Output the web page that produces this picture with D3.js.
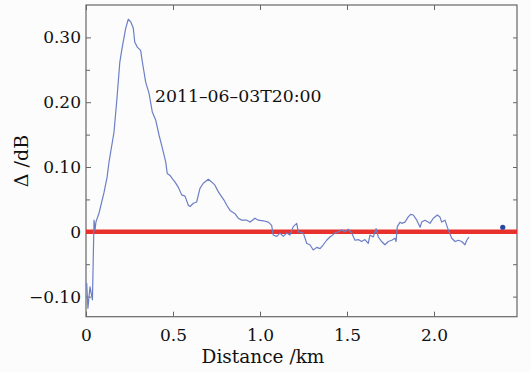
<!DOCTYPE html>
<html>
<head>
<meta charset="utf-8">
<script src="https://cdn.jsdelivr.net/npm/d3@7"></script>
<style>
  html, body { margin: 0; padding: 0; background: #fcfcfc; }
  svg { display: block; }
</style>
</head>
<body>
<svg id="chart" width="531" height="372"></svg>
<script>
// Differential loss along the fibre (km, dB)
const distance = [
  0.004, 0.011, 0.023, 0.037, 0.046, 0.052, 0.057, 0.075, 0.103, 0.121,
  0.132, 0.161, 0.178, 0.194, 0.207, 0.228, 0.243, 0.257, 0.272, 0.280,
  0.295, 0.314, 0.324, 0.343, 0.362, 0.381, 0.401, 0.420, 0.439, 0.458,
  0.467, 0.483, 0.496, 0.511, 0.530, 0.550, 0.569, 0.588, 0.598, 0.617,
  0.636, 0.655, 0.674, 0.703, 0.722, 0.741, 0.760, 0.780, 0.793, 0.809,
  0.828, 0.856, 0.875, 0.895, 0.924, 0.943, 0.971, 0.990, 1.019, 1.048,
  1.067, 1.076, 1.096, 1.115, 1.134, 1.153, 1.172, 1.191, 1.211, 1.220,
  1.249, 1.269, 1.287, 1.306, 1.326, 1.345, 1.364, 1.383, 1.402, 1.431,
  1.450, 1.470, 1.489, 1.507, 1.527, 1.546, 1.565, 1.584, 1.603, 1.622,
  1.632, 1.651, 1.667, 1.680, 1.699, 1.718, 1.737, 1.757, 1.776, 1.782,
  1.789, 1.805, 1.814, 1.833, 1.852, 1.866, 1.881, 1.901, 1.920, 1.929,
  1.948, 1.967, 1.977, 1.996, 2.019, 2.034, 2.044, 2.063, 2.082, 2.102,
  2.121, 2.140, 2.159, 2.178, 2.188, 2.201
];
const delta = [
  -0.079, -0.118, -0.085, -0.105, 0.018, 0.003, 0.015, 0.029, 0.060, 0.084,
  0.107, 0.154, 0.206, 0.261, 0.283, 0.314, 0.328, 0.324, 0.314, 0.293,
  0.285, 0.280, 0.262, 0.231, 0.214, 0.185, 0.172, 0.149, 0.129, 0.108,
  0.090, 0.087, 0.082, 0.077, 0.069, 0.057, 0.055, 0.041, 0.039, 0.044,
  0.046, 0.067, 0.075, 0.081, 0.077, 0.072, 0.062, 0.054, 0.049, 0.041,
  0.033, 0.028, 0.021, 0.018, 0.018, 0.015, 0.021, 0.018, 0.017, 0.015,
  0.010, -0.005, -0.007, -0.002, -0.007, -0.002, -0.005, 0.008, 0.013, 0.000,
  -0.002, -0.018, -0.020, -0.028, -0.024, -0.026, -0.020, -0.013, -0.008, -0.002,
  0.000, 0.003, 0.000, 0.004, -0.002, -0.013, -0.012, -0.015, -0.012, -0.018,
  -0.005, -0.008, 0.005, -0.008, -0.015, -0.020, -0.015, -0.013, -0.010, -0.015,
  0.008, 0.015, 0.013, 0.015, 0.023, 0.027, 0.026, 0.018, 0.007, 0.015,
  0.018, 0.015, 0.013, 0.021, 0.026, 0.023, 0.015, 0.018, 0.003, -0.010,
  -0.015, -0.013, -0.015, -0.020, -0.013, -0.008
];
// Isolated reading beyond the trace
const markerDistance = [2.395];
const markerDelta = [0.007];

const xTicks = [0, 0.5, 1.0, 1.5, 2.0];
const xTickLabels = ["0", "0.5", "1.0", "1.5", "2.0"];
const yTicks = [-0.10, 0, 0.10, 0.20, 0.30];
const yTickLabels = ["\u22120.10", "0", "0.10", "0.20", "0.30"];
const yMinorTicks = [-0.05, 0.05, 0.15, 0.25];
const annotation = "2011\u201306\u201303T20:00";

const svg = d3.select("#chart");
const plotLeft = 86, plotRight = 517, plotTop = 5, plotBottom = 316.7;

const x = d3.scaleLinear().domain([0, 2.477]).range([plotLeft, plotRight]);
const y = d3.scaleLinear().domain([-0.131, 0.35]).range([plotBottom, plotTop]);

const font = "DejaVu Serif, serif";
const axisColor = "#666";

// Frame
svg.append("rect")
  .attr("x", plotLeft).attr("y", plotTop)
  .attr("width", plotRight - plotLeft).attr("height", plotBottom - plotTop)
  .attr("fill", "none").attr("stroke", axisColor).attr("stroke-width", 1.2);

// Inward ticks on all four sides
function styleAxis(g) {
  g.select(".domain").remove();
  g.selectAll(".tick line").attr("stroke", axisColor).attr("stroke-width", 1);
  g.selectAll(".tick text").attr("fill", "#111").style("font-family", font).style("font-size", "17px");
}

svg.append("g").attr("transform", `translate(0,${plotBottom})`)
  .call(d3.axisBottom(x).tickValues(xTicks).tickSize(-5).tickPadding(12)
    .tickFormat((d, i) => xTickLabels[i]))
  .call(styleAxis);

svg.append("g").attr("transform", `translate(0,${plotTop})`)
  .call(d3.axisTop(x).tickValues(xTicks).tickSize(-5).tickFormat(""))
  .call(styleAxis);

svg.append("g").attr("transform", `translate(${plotLeft},0)`)
  .call(d3.axisLeft(y).tickValues(yTicks).tickSize(-5).tickPadding(5)
    .tickFormat((d, i) => yTickLabels[i]))
  .call(styleAxis);

svg.append("g").attr("transform", `translate(${plotLeft},0)`)
  .call(d3.axisLeft(y).tickValues(yMinorTicks).tickSize(-4).tickFormat(""))
  .call(styleAxis);

svg.append("g").attr("transform", `translate(${plotRight},0)`)
  .call(d3.axisRight(y).tickValues(yTicks.concat(yMinorTicks)).tickSize(-4).tickFormat(""))
  .call(styleAxis);

// Zero reference line
svg.append("line")
  .attr("x1", x(0)).attr("x2", x(2.477))
  .attr("y1", y(0)).attr("y2", y(0))
  .attr("stroke", "#e8302c").attr("stroke-width", 4.5);

// Loss trace
const pts = distance.map((d, i) => [d, delta[i]]);
svg.append("path")
  .datum(pts)
  .attr("fill", "none")
  .attr("stroke", "#6c7fc6")
  .attr("stroke-width", 1.2)
  .attr("stroke-linejoin", "round")
  .attr("d", d3.line().x(d => x(d[0])).y(d => y(d[1])));

svg.selectAll("circle.marker")
  .data(markerDistance.map((d, i) => [d, markerDelta[i]]))
  .join("circle")
  .attr("class", "marker")
  .attr("cx", d => x(d[0])).attr("cy", d => y(d[1]))
  .attr("r", 2.6).attr("fill", "#2747a0");

// Annotation
svg.append("text")
  .attr("x", 155).attr("y", 102)
  .style("font-family", font).style("font-size", "17.3px").attr("fill", "#111")
  .text(annotation);

// Axis titles
svg.append("text")
  .attr("x", 263).attr("y", 363)
  .attr("text-anchor", "middle")
  .style("font-family", font).style("font-size", "18.5px").attr("fill", "#111")
  .text("Distance /km");

svg.append("text")
  .attr("transform", "translate(28,161) rotate(-90)")
  .attr("text-anchor", "middle")
  .style("font-family", font).style("font-size", "19px").attr("fill", "#111")
  .text("\u0394 /dB");
</script>
</body>
</html>
